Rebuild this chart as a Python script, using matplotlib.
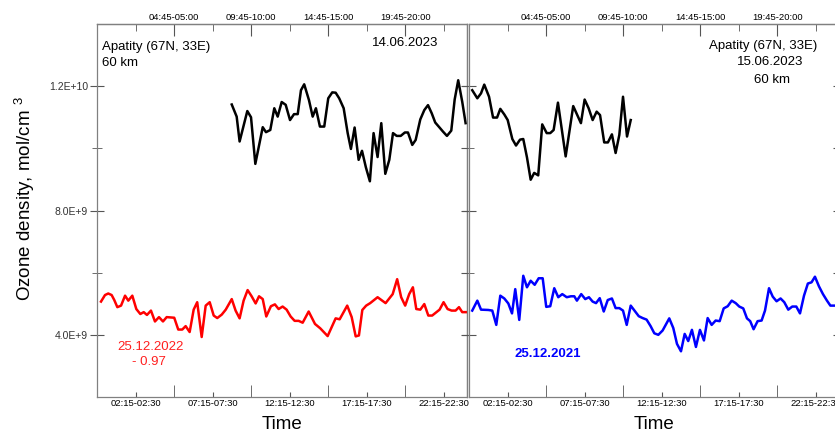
import matplotlib.pyplot as plt

plt.rcParams['font.family'] = ['Liberation Sans', 'DejaVu Sans']
plt.rcParams['mathtext.fontset'] = 'custom'
plt.rcParams['mathtext.rm'] = 'Liberation Sans'

# time of day in hours (UT), ozone density in units of 1e9 mol/cm^3
t_jun14 = [8.74, 9.06, 9.25, 9.75, 9.99, 10.27, 10.75, 10.96, 11.24, 11.50,
           11.72, 11.98, 12.24, 12.52, 12.78, 13.02, 13.23, 13.44, 13.75, 13.99,
           14.20, 14.46, 14.74, 15.00, 15.26, 15.48, 15.71, 16.00, 16.26, 16.47,
           16.71, 16.97, 17.19, 17.44, 17.70, 17.94, 18.20, 18.44, 18.70, 18.96,
           19.20, 19.44, 19.70, 19.97, 20.17, 20.45, 20.67, 20.97, 21.23, 21.47,
           21.71, 21.94, 22.20, 22.44, 22.70, 22.98, 23.20, 23.43, 23.69, 23.91]
o3_jun14 = [11.41, 11.02, 10.22, 11.20, 11.00, 9.50, 10.68, 10.52, 10.59, 11.29,
            11.02, 11.49, 11.40, 10.91, 11.10, 11.10, 11.87, 12.06, 11.55, 11.02,
            11.29, 10.70, 10.70, 11.61, 11.80, 11.79, 11.61, 11.29, 10.49, 9.98,
            10.67, 9.63, 9.92, 9.39, 8.94, 10.49, 9.72, 10.81, 9.18, 9.63,
            10.49, 10.40, 10.40, 10.51, 10.51, 10.11, 10.27, 10.93, 11.23, 11.39,
            11.13, 10.83, 10.68, 10.54, 10.40, 10.57, 11.57, 12.19, 11.50, 10.81]

t_dec22 = [0.26, 0.52, 0.73, 0.95, 1.12, 1.32, 1.56, 1.82, 2.03, 2.29,
           2.55, 2.81, 3.03, 3.24, 3.50, 3.76, 4.02, 4.28, 4.52, 5.01,
           5.27, 5.53, 5.75, 6.01, 6.27, 6.50, 6.79, 7.05, 7.31, 7.57,
           7.80, 8.09, 8.35, 8.74, 8.99, 9.25, 9.51, 9.77, 10.03, 10.29,
           10.51, 10.75, 10.98, 11.28, 11.54, 11.78, 12.04, 12.30, 12.56, 12.82,
           13.08, 13.34, 13.73, 14.14, 14.48, 14.96, 15.48, 15.74, 16.23, 16.52,
           16.78, 16.99, 17.21, 17.46, 17.72, 18.20, 18.72, 19.18, 19.47, 19.73,
           19.99, 20.25, 20.49, 20.71, 20.97, 21.23, 21.49, 21.74, 22.22, 22.48,
           22.74, 23.00, 23.26, 23.48, 23.69, 23.95]
o3_dec22 = [5.07, 5.28, 5.33, 5.28, 5.12, 4.89, 4.94, 5.26, 5.10, 5.26,
            4.83, 4.67, 4.73, 4.64, 4.78, 4.43, 4.57, 4.43, 4.57, 4.55,
            4.17, 4.17, 4.28, 4.09, 4.81, 5.05, 3.93, 4.94, 5.05, 4.62,
            4.54, 4.65, 4.81, 5.15, 4.78, 4.53, 5.10, 5.44, 5.24, 5.01,
            5.24, 5.15, 4.59, 4.92, 4.98, 4.83, 4.91, 4.81, 4.59, 4.45,
            4.45, 4.39, 4.75, 4.35, 4.21, 3.96, 4.53, 4.50, 4.94, 4.57,
            3.95, 3.98, 4.80, 4.94, 5.02, 5.21, 5.02, 5.31, 5.79, 5.21,
            4.94, 5.31, 5.53, 4.83, 4.81, 4.99, 4.62, 4.62, 4.81, 5.05,
            4.83, 4.78, 4.78, 4.89, 4.73, 4.73]

t_jun15 = [0.21, 0.54, 0.78, 0.99, 1.30, 1.56, 1.82, 2.03, 2.29, 2.51,
           2.81, 3.05, 3.31, 3.52, 3.76, 4.00, 4.23, 4.49, 4.75, 5.04,
           5.27, 5.49, 5.77, 6.27, 6.76, 7.26, 7.50, 7.76, 8.02, 8.28,
           8.50, 8.77, 9.01, 9.27, 9.51, 9.75, 9.99, 10.25, 10.49]
o3_jun15 = [11.87, 11.61, 11.77, 12.05, 11.66, 10.99, 10.99, 11.27, 11.09, 10.91,
            10.30, 10.09, 10.28, 10.30, 9.71, 8.99, 9.21, 9.13, 10.77, 10.49,
            10.49, 10.59, 11.47, 9.74, 11.36, 10.81, 11.57, 11.29, 10.91, 11.18,
            11.07, 10.19, 10.19, 10.45, 9.85, 10.43, 11.66, 10.38, 10.91]

t_dec21 = [0.21, 0.54, 0.78, 1.25, 1.51, 1.77, 2.03, 2.29, 2.55, 2.79,
           3.00, 3.26, 3.52, 3.76, 4.00, 4.26, 4.52, 4.78, 5.01, 5.27,
           5.53, 5.79, 6.05, 6.34, 6.61, 6.83, 7.00, 7.28, 7.54, 7.78,
           8.02, 8.24, 8.48, 8.74, 9.00, 9.27, 9.51, 9.75, 9.99, 10.23,
           10.49, 11.01, 11.26, 11.52, 11.78, 12.02, 12.28, 12.56, 12.99, 13.25,
           13.49, 13.75, 13.99, 14.22, 14.46, 14.72, 14.98, 15.24, 15.48, 15.74,
           16.00, 16.26, 16.52, 16.78, 17.04, 17.30, 17.53, 17.79, 18.03, 18.24,
           18.46, 18.72, 18.98, 19.20, 19.46, 19.70, 19.95, 20.21, 20.45, 20.71,
           20.97, 21.23, 21.47, 21.73, 21.98, 22.22, 22.44, 22.70, 22.96, 23.22,
           23.44, 23.69]
o3_dec21 = [4.78, 5.10, 4.81, 4.80, 4.78, 4.32, 5.26, 5.17, 5.01, 4.69,
            5.47, 4.48, 5.90, 5.53, 5.74, 5.61, 5.82, 5.82, 4.90, 4.92,
            5.50, 5.21, 5.31, 5.21, 5.24, 5.24, 5.10, 5.31, 5.15, 5.21,
            5.07, 5.02, 5.18, 4.75, 5.12, 5.17, 4.86, 4.86, 4.78, 4.32,
            4.94, 4.60, 4.54, 4.49, 4.28, 4.05, 4.00, 4.14, 4.53, 4.22,
            3.71, 3.47, 4.03, 3.80, 4.16, 3.61, 4.16, 3.82, 4.54, 4.32,
            4.46, 4.44, 4.85, 4.92, 5.10, 5.02, 4.91, 4.85, 4.53, 4.44,
            4.18, 4.44, 4.46, 4.78, 5.50, 5.23, 5.08, 5.17, 5.05, 4.81,
            4.91, 4.91, 4.69, 5.26, 5.65, 5.69, 5.87, 5.56, 5.31, 5.10,
            4.94, 4.94]

SCALE = 1e9

bottom_ticks = [2.5, 7.5, 12.5, 17.5, 22.5]
bottom_labels = ['02:15-02:30', '07:15-07:30', '12:15-12:30', '17:15-17:30', '22:15-22:30']
top_ticks = [5, 10, 15, 20]
top_labels = ['04:45-05:00', '09:45-10:00', '14:45-15:00', '19:45-20:00']
y_major = [4e9, 8e9, 1.2e10]
y_labels = ['4.0E+9', '8.0E+9', '1.2E+10']
y_minor = [6e9, 1e10]

FRAME = '#808080'
TICKC = '#555555'


def setup_axes(ax, ylabels):
    ax.set_xlim(0, 24)
    ax.set_ylim(2e9, 1.4e10)
    for s in ax.spines.values():
        s.set_color(FRAME)
        s.set_linewidth(0.9)

    # bottom axis: labelled short ticks, unlabelled long ones
    ax.set_xticks(bottom_ticks, bottom_labels)
    ax.set_xticks(top_ticks, minor=True)
    ax.tick_params(axis='x', which='major', direction='in', length=3.6, pad=1.5,
                   labelsize=6.8, color=TICKC, labelcolor='black')
    ax.tick_params(axis='x', which='minor', direction='in', length=8.5, color=TICKC)

    # top axis
    top = ax.secondary_xaxis('top')
    top.set_xticks(top_ticks, top_labels)
    top.set_xticks(bottom_ticks, minor=True)
    top.tick_params(which='major', direction='in', length=8.5, pad=1.2,
                    labelsize=6.8, color=TICKC, labelcolor='black')
    top.tick_params(which='minor', direction='in', length=5, color=TICKC)
    top.spines['top'].set_color(FRAME)
    top.spines['top'].set_linewidth(0.9)

    # left axis
    ax.set_yticks(y_major, y_labels if ylabels else [])
    ax.set_yticks(y_minor, minor=True)
    ax.tick_params(axis='y', which='major', direction='inout', length=10, pad=1.5,
                   labelsize=7.5, color=TICKC, labelcolor='#333333')
    ax.tick_params(axis='y', which='minor', direction='inout', length=7, color=TICKC)

    # right axis
    right = ax.secondary_yaxis('right')
    right.set_yticks(y_major + y_minor, [])
    right.tick_params(direction='in', length=4, color=TICKC)
    right.spines['right'].set_color(FRAME)
    right.spines['right'].set_linewidth(0.9)

    ax.set_xlabel('Time', fontsize=13.5, labelpad=6)


fig = plt.figure(figsize=(8.35, 4.36), dpi=100)
ax1 = fig.add_axes([97 / 835, 39 / 436, 370 / 835, 373 / 436])
ax2 = fig.add_axes([469 / 835, 39 / 436, 370 / 835, 373 / 436])

setup_axes(ax1, True)
setup_axes(ax2, False)

ax1.plot(t_jun14, [v * SCALE for v in o3_jun14], color='black', lw=1.8)
ax1.plot(t_dec22, [v * SCALE for v in o3_dec22], color='red', lw=1.8)
ax2.plot(t_jun15, [v * SCALE for v in o3_jun15], color='black', lw=1.8)
ax2.plot(t_dec21, [v * SCALE for v in o3_dec21], color='blue', lw=1.8)

ax1.text(0.0135, 0.938, 'Apatity (67N, 33E)', transform=ax1.transAxes,
         ha='left', va='center', fontsize=9.5)
ax1.text(0.0135, 0.896, '60 km', transform=ax1.transAxes,
         ha='left', va='center', fontsize=9.5)
ax1.text(0.832, 0.949, '14.06.2023', transform=ax1.transAxes,
         ha='center', va='center', fontsize=9.5)
ax1.text(0.145, 0.134, '25.12.2022', transform=ax1.transAxes,
         ha='center', va='center', fontsize=9.5, color='#ff2020')
ax1.text(0.140, 0.094, '- 0.97', transform=ax1.transAxes,
         ha='center', va='center', fontsize=9.5, color='#ff2020')

ax2.text(0.796, 0.941, 'Apatity (67N, 33E)', transform=ax2.transAxes,
         ha='center', va='center', fontsize=9.5)
ax2.text(0.813, 0.898, '15.06.2023', transform=ax2.transAxes,
         ha='center', va='center', fontsize=9.5)
ax2.text(0.819, 0.850, '60 km', transform=ax2.transAxes,
         ha='center', va='center', fontsize=9.5)
ax2.text(0.2135, 0.115, '25.12.2021', transform=ax2.transAxes,
         ha='center', va='center', fontsize=9.5, color='blue', fontweight='bold')

fig.text(0.030, 0.544, r'Ozone density, mol/cm $^{3}$', rotation=90,
         ha='center', va='center', fontsize=13.5)

fig.savefig('out.png', dpi=100)
